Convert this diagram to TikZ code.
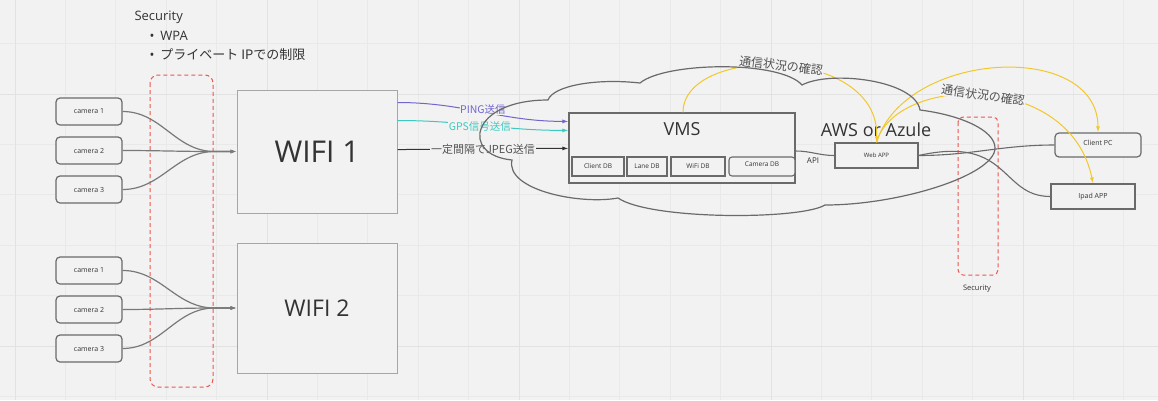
\documentclass[tikz,border=0pt]{standalone}
\usepackage{fontspec}
\setmainfont{Open Sans}
\newfontfamily\jp{Noto Sans CJK JP}
\usetikzlibrary{arrows.meta,calc}

\definecolor{bg}{HTML}{F2F2F2}
\definecolor{gridminor}{HTML}{E9E9E9}
\definecolor{gridmajor}{HTML}{E2E2E2}
\definecolor{ink}{HTML}{333333}
\definecolor{boxline}{HTML}{6A6A6A}
\definecolor{wifiline}{HTML}{A6A6A6}
\definecolor{secred}{HTML}{E9584F}
\definecolor{linkyellow}{HTML}{F2C72B}
\definecolor{pingcol}{HTML}{7066CC}
\definecolor{gpscol}{HTML}{3DC9BF}

\tikzset{
  box/.style={draw=boxline, line width=1.2pt, fill=bg, inner sep=0pt, text=ink},
  camerabox/.style={box, rounded corners=4pt, minimum width=66pt, minimum height=27pt, font=\fontsize{7}{8}\selectfont},
  wifibox/.style={draw=wifiline, line width=1pt, fill=bg, inner sep=0pt, text=ink, minimum width=160pt},
  dbbox/.style={box, line width=1.1pt, minimum height=19pt, font=\fontsize{6.5}{7}\selectfont},
  secbox/.style={draw=secred, line width=1pt, dash pattern=on 4pt off 3pt, rounded corners=8pt},
  camline/.style={draw=boxline!90, line width=1.2pt, -{Latex[length=6pt,width=4pt]}},
  tip/.style={-{Latex[length=6pt,width=4pt]}},
  linklabel/.style={fill=bg, inner sep=1pt, font=\jp\fontsize{11}{12}\selectfont},
  smalllabel/.style={fill=bg, inner sep=0.5pt, font=\jp\fontsize{10.5}{11}\selectfont},
  yellowlink/.style={draw=linkyellow, line width=1pt, -{Latex[length=6pt,width=4pt]}},
  cloudline/.style={draw=boxline, line width=1.2pt},
  plainline/.style={draw=boxline, line width=1.1pt}
}

\begin{document}
\begin{tikzpicture}[x=1pt,y=-1pt]
% canvas and grid
\fill[bg] (0,0) rectangle (1158,400);
\useasboundingbox (0,0) rectangle (1158,400);
\foreach \i in {0,...,22} \draw[gridminor, line width=0.7pt] ({15+50.4*\i},0) -- ({15+50.4*\i},400);
\foreach \j in {0,...,7} \draw[gridminor, line width=0.7pt] (0,{43.5+50.4*\j}) -- (1158,{43.5+50.4*\j});
\foreach \i in {0,...,4} \draw[gridmajor, line width=0.9pt] ({15+252*\i},0) -- ({15+252*\i},400);
\foreach \j in {0,1} \draw[gridmajor, line width=0.9pt] (0,{94+252*\j}) -- (1158,{94+252*\j});

% security notes
\node[anchor=west, text=ink, font=\fontsize{13}{15}\selectfont] (sectitle) at (131,17) {Security};
\node[anchor=west, text=ink, font=\fontsize{13}{15}\selectfont] (secwpa) at (146,36) {\textbullet\hspace{6pt}WPA};
\node[anchor=west, text=ink, font=\fontsize{13}{15}\selectfont] (secip) at (146,55) {\textbullet\hspace{6pt}{\jp プライベート IPでの制限}};

% security zones
\draw[secbox] (150,75) rectangle (213,387);
\draw[secbox, rounded corners=5pt] (958,117) rectangle (998,275);
\node[text=ink, font=\fontsize{7.5}{9}\selectfont] (secright) at (977,289) {Security};

% cameras
\node[camerabox] (c11) at (89,111.5) {camera 1};
\node[camerabox] (c12) at (89,150.5) {camera 2};
\node[camerabox] (c13) at (89,189.5) {camera 3};
\node[camerabox] (c21) at (89,270.5) {camera 1};
\node[camerabox] (c22) at (89,309.5) {camera 2};
\node[camerabox] (c23) at (89,348.5) {camera 3};

% access points
\node[wifibox, minimum height=123pt, font=\fontsize{30}{34}\selectfont] (wifi1) at (317,151.5) {WIFI 1};
\node[wifibox, minimum height=130pt, font=\fontsize{23}{27}\selectfont] (wifi2) at (317,308) {WIFI 2};
\coordinate (j1) at ($(wifi1.west)+(-22,0)$);
\coordinate (j2) at ($(wifi2.west)+(-22,0)$);

% VMS and its databases
\node[box, minimum width=226pt, minimum height=70pt] (vms) at (682,148) {};
\node[text=ink, font=\fontsize{18}{20}\selectfont] (vmstitle) at (682,129) {VMS};
\node[dbbox, minimum width=52pt] (clientdb) at (598,166.5) {Client DB};
\node[dbbox, minimum width=40pt] (lanedb) at (647,166.5) {Lane DB};
\node[dbbox, minimum width=54pt] (wifidb) at (698,166.5) {WiFi DB};
\node[dbbox, minimum width=66pt, rounded corners=3pt] (cameradb) at (762,166.5) {\raisebox{4pt}{Camera DB}};

% cloud side
\node[text=ink, font=\fontsize{18}{20}\selectfont] (cloudtitle) at (876,130) {AWS or Azule};
\node[box, minimum width=83pt, minimum height=25pt, font=\fontsize{6}{7}\selectfont] (webapp) at (876.5,155.5) {Web APP};
\node[text=ink, font=\fontsize{8}{9}\selectfont] (api) at (813,161) {API};

% clients
\node[box, rounded corners=4pt, minimum width=86pt, minimum height=24pt, font=\fontsize{7}{8}\selectfont] (clientpc) at (1098,145) {\raisebox{4pt}{Client PC}};
\node[box, minimum width=84pt, minimum height=25pt, font=\fontsize{7}{8}\selectfont] (ipad) at (1093,196.5) {Ipad APP};

% camera uplinks
\foreach \c in {c11,c12,c13} \draw[camline] (\c.east) to[out=0,in=180] (j1) -- (wifi1.west);
\foreach \c in {c21,c22,c23} \draw[camline] (\c.east) to[out=0,in=180] (j2) -- (wifi2.west);

% WIFI 1 -> VMS
\draw[draw=pingcol, line width=1pt, tip] ($(wifi1.north east)+(0,13)$) to[out=0,in=180]
  node[smalllabel, pos=0.5, yshift=2.5pt, text=pingcol] (pinglbl) {PING送信} ($(vms.north west)+(0,9)$);
\draw[draw=gpscol, line width=1pt, tip] ($(wifi1.north east)+(0,31)$) to[out=0,in=180]
  node[smalllabel, pos=0.48, yshift=-1pt, text=gpscol] (gpslbl) {GPS信号送信} ($(vms.north west)+(0,18)$);
\draw[draw=ink, line width=1pt, tip] ($(wifi1.north east)+(0,60)$) to[out=0,in=180]
  node[linklabel, text=ink!85] (jpeglbl) {一定間隔でJPEG送信} ($(vms.north west)+(0,36)$);

% status checks
\draw[yellowlink] ($(vms.north)+(1,0)$) .. controls (683,45) and (880,45) .. (webapp.north)
  node[linklabel, pos=0.5, rotate=-7, text=ink!85, font=\jp\fontsize{12}{13}\selectfont] (chk1) {通信状況の確認};
\draw[yellowlink] (webapp.north) .. controls (905,50) and (1098,40) .. (clientpc.north);
\draw[yellowlink] (webapp.north) .. controls (895,75) and (1070,70) .. (ipad.north)
  node[linklabel, pos=0.5, rotate=-8, text=ink!85, font=\jp\fontsize{12}{13}\selectfont] (chk2) {通信状況の確認};

% service links
\draw[plainline] ($(vms.east)+(0,3)$) to[out=0,in=180] (webapp.west);
\draw[plainline] (webapp.east) to[out=0,in=180] (clientpc.west);
\draw[plainline] (webapp.east) .. controls (1010,135) and (1000,196.5) .. (ipad.west);

% cloud outline
\draw[cloudline] (548,100)
  .. controls (553,86) and (595,78) .. (640,83)
  .. controls (665,62) and (780,60) .. (802,85)
  .. controls (830,70) and (915,80) .. (920,110)
  .. controls (960,115) and (995,130) .. (995,148)
  .. controls (995,175) and (900,205) .. (825,205)
  .. controls (800,220) and (650,220) .. (618,198)
  .. controls (580,205) and (505,190) .. (512,160)
  .. controls (460,155) and (470,100) .. (548,100);
\end{tikzpicture}
\end{document}
